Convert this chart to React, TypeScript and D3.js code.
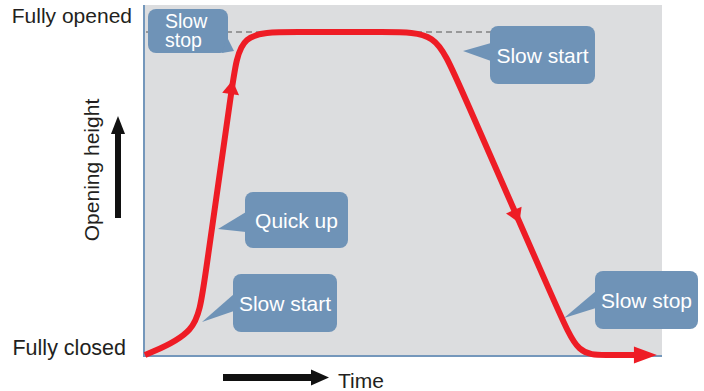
import * as d3 from "d3";

// opening curve: time (0-100) vs opening height (0-100 %)
const time = [0, 10.1, 11.3, 17.1, 18.4, 28.2, 47.6, 56.5, 60.2, 80.6, 84.1, 89.3, 96.0];
const height = [0, 6.8, 20.1, 85.1, 100, 100, 100, 100, 86.7, 12.4, 0, 0, 0];

// direction arrows along the curve: [tipTime, tipHeight, fromTime, fromHeight]
const arrowTips = [
  [17.0, 85.1, 11.3, 20.1],
  [72.7, 40.9, 60.2, 86.7],
  [99.4, 0, 89.3, 0],
];

const yLabels = ["Fully closed", "Fully opened"];

const W = 704;
const H = 391;
const font = "'Liberation Sans', Arial, sans-serif";
const boxFill = "#6f93b7";
const red = "#ee1c25";

type Callout = {
  lines: string[];
  x: number; y: number; w: number; h: number;
  ptr: [number, number][];
  tx: number; anchor: string;
};

const callouts: Callout[] = [
  { lines: ["Slow", "stop"], x: 148, y: 9, w: 80, h: 44, ptr: [[227, 37], [222, 53], [234, 51]], tx: 165, anchor: "start" },
  { lines: ["Slow start"], x: 490, y: 26, w: 105, h: 58, ptr: [[491, 43], [491, 61], [463, 51]], tx: 542.5, anchor: "middle" },
  { lines: ["Quick up"], x: 245, y: 192, w: 103, h: 56, ptr: [[246, 212], [246, 232], [218, 229]], tx: 296.5, anchor: "middle" },
  { lines: ["Slow start"], x: 233, y: 274, w: 104, h: 58, ptr: [[234, 294], [234, 311], [202, 322]], tx: 285, anchor: "middle" },
  { lines: ["Slow stop"], x: 595, y: 271, w: 103, h: 58, ptr: [[596, 291], [596, 308], [564, 318]], tx: 646.5, anchor: "middle" },
];

function arrowHead(tx: number, ty: number, fx: number, fy: number, len: number, half: number) {
  const a = Math.atan2(ty - fy, tx - fx);
  const bx = tx - len * Math.cos(a);
  const by = ty - len * Math.sin(a);
  const nx = -Math.sin(a) * half;
  const ny = Math.cos(a) * half;
  return `M${tx},${ty}L${bx + nx},${by + ny}L${bx - nx},${by - ny}Z`;
}

export default function App() {
  const x = d3.scaleLinear().domain([0, 100]).range([145, 660]);
  const y = d3.scaleLinear().domain([0, 100]).range([355, 32]);

  const pts = time.map((t, i) => [t, height[i]] as [number, number]);
  const line = d3
    .line<[number, number]>()
    .x((d) => x(d[0]))
    .y((d) => y(d[1]))
    .curve(d3.curveBasis);

  return (
    <svg width={W} height={H} style={{ position: "absolute", left: 0, top: 0 }} fontFamily={font}>
      <rect x={145} y={5} width={517} height={351} fill="#dcdddf" />
      <line x1={144} y1={5} x2={144} y2={357} stroke="#7497bb" strokeWidth={2} />
      <line x1={144} y1={356} x2={662} y2={356} stroke="#7497bb" strokeWidth={2} />
      <line x1={146} y1={y(100)} x2={492} y2={y(100)} stroke="#555" strokeWidth={1.2} strokeDasharray="6,4" />

      <text x={132} y={23} textAnchor="end" fontSize={21} fill="#231f20">{yLabels[1]}</text>
      <text x={126} y={355} textAnchor="end" fontSize={21.5} fill="#231f20">{yLabels[0]}</text>

      <text transform="translate(99,170) rotate(-90)" textAnchor="middle" fontSize={21} fill="#231f20">
        Opening height
      </text>
      <rect x={115} y={132} width={6} height={86} fill="#111" />
      <path d="M118,116L111,134L125,134Z" fill="#111" />

      <rect x={223} y={374} width={90} height={7} fill="#111" />
      <path d="M329,377.5L311,369.5L311,385.5Z" fill="#111" />
      <text x={338} y={388} fontSize={21} fill="#231f20">Time</text>

      {callouts.map((c, i) => (
        <g key={i}>
          <rect x={c.x} y={c.y} width={c.w} height={c.h} rx={8} fill={boxFill} />
          <path d={"M" + c.ptr.map((p) => p.join(",")).join("L") + "Z"} fill={boxFill} />
          {c.lines.map((l, j) => (
            <text
              key={j}
              x={c.tx}
              y={c.lines.length > 1 ? c.y + 19 + j * 18.5 : c.y + c.h / 2 + 7.5}
              textAnchor={c.anchor}
              fontSize={c.lines.length > 1 ? 19.5 : 21}
              fill="#fff"
            >
              {l}
            </text>
          ))}
        </g>
      ))}

      <path d={line(pts) ?? ""} fill="none" stroke={red} strokeWidth={6} strokeLinejoin="round" />
      {arrowTips.map((a, i) => (
        <path
          key={i}
          d={arrowHead(x(a[0]), y(a[1]), x(a[2]), y(a[3]), i === 2 ? 23 : 14, 8.5)}
          fill={red}
        />
      ))}
    </svg>
  );
}
